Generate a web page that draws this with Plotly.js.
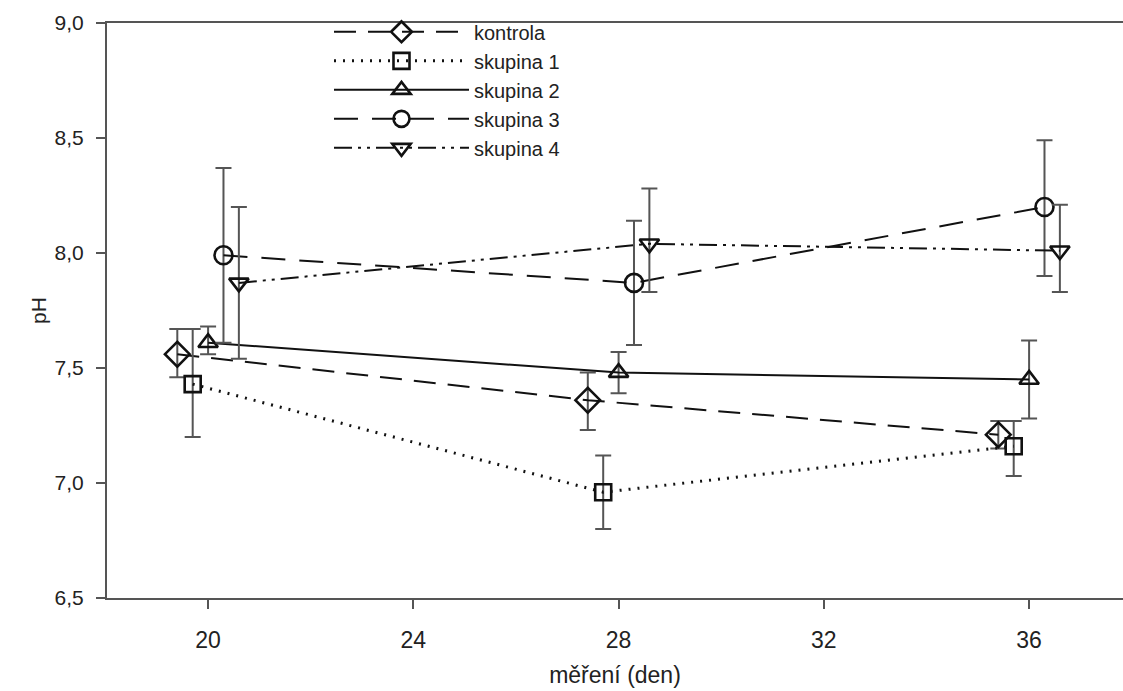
<!DOCTYPE html>
<html>
<head>
<meta charset="utf-8">
<script src="https://cdn.plot.ly/plotly-3.0.1.min.js"></script>
<style>html,body{margin:0;padding:0;background:#fff;}#chart{width:1123px;height:691px;}</style>
</head>
<body>
<div id="chart"></div>
<script>
// Series names
const seriesNames = ["kontrola", "skupina 1", "skupina 2", "skupina 3", "skupina 4"];

// x positions (days, slightly offset per group as in the original)
const xKontrola = [19.4, 27.4, 35.4];
const xSkupina1 = [19.7, 27.7, 35.7];
const xSkupina2 = [20.0, 28.0, 36.0];
const xSkupina3 = [20.3, 28.3, 36.3];
const xSkupina4 = [20.6, 28.6, 36.6];

// mean pH
const yKontrola = [7.56, 7.36, 7.21];
const ySkupina1 = [7.43, 6.96, 7.16];
const ySkupina2 = [7.61, 7.48, 7.45];
const ySkupina3 = [7.99, 7.87, 8.20];
const ySkupina4 = [7.87, 8.04, 8.01];

// error bar upper ends
const upKontrola = [7.67, 7.48, 7.27];
const upSkupina1 = [7.67, 7.12, 7.27];
const upSkupina2 = [7.68, 7.57, 7.62];
const upSkupina3 = [8.37, 8.14, 8.49];
const upSkupina4 = [8.20, 8.28, 8.21];

// error bar lower ends
const loKontrola = [7.46, 7.23, 7.15];
const loSkupina1 = [7.20, 6.80, 7.03];
const loSkupina2 = [7.56, 7.39, 7.28];
const loSkupina3 = [7.61, 7.60, 7.90];
const loSkupina4 = [7.54, 7.83, 7.83];

const xs = [xKontrola, xSkupina1, xSkupina2, xSkupina3, xSkupina4];
const ys = [yKontrola, ySkupina1, ySkupina2, ySkupina3, ySkupina4];
const ups = [upKontrola, upSkupina1, upSkupina2, upSkupina3, upSkupina4];
const los = [loKontrola, loSkupina1, loSkupina2, loSkupina3, loSkupina4];

const symbols = ["diamond-open", "square-open", "triangle-up-open", "circle-open", "triangle-down-open"];
const sizes = [19, 16, 17, 18, 17];
const dashes = ["22px,12px", "2px,7px", "solid", "24px,14px", "18px,6px,3px,6px,3px,6px"];
const lineWidths = [2, 3, 2, 2, 2];

const traces = seriesNames.map((name, i) => ({
  type: "scatter",
  mode: "lines+markers",
  name: name,
  x: xs[i],
  y: ys[i],
  line: {color: "#111", width: lineWidths[i], dash: dashes[i]},
  marker: {symbol: symbols[i], size: sizes[i], color: "#111", line: {color: "#111", width: 2.6}},
  error_y: {
    type: "data",
    symmetric: false,
    array: ups[i].map((u, k) => u - ys[i][k]),
    arrayminus: los[i].map((l, k) => ys[i][k] - l),
    color: "#555",
    thickness: 2,
    width: 8
  }
}));

const layout = {
  width: 1123,
  height: 691,
  margin: {l: 107, r: 0, t: 23, b: 93},
  paper_bgcolor: "#fff",
  plot_bgcolor: "#fff",
  separators: ", ",
  showlegend: true,
  legend: {
    x: 0.2185, y: 1.0185, xanchor: "left", yanchor: "top",
    bgcolor: "rgba(0,0,0,0)",
    font: {family: "Liberation Sans, Arial, sans-serif", size: 20, color: "#222"},
    itemwidth: 135,
    tracegroupgap: 0
  },
  xaxis: {
    range: [18.03, 37.83],
    tickvals: [20, 24, 28, 32, 36],
    ticks: "outside",
    ticklen: 9,
    tickwidth: 2,
    tickcolor: "#555",
    showline: true,
    linecolor: "#555",
    linewidth: 2,
    mirror: true,
    showgrid: false,
    zeroline: false,
    ticklabelstandoff: 11,
    tickfont: {family: "Liberation Sans Narrow, Liberation Sans, Arial, sans-serif", size: 23, color: "#222"},
    title: {text: "měření (den)", standoff: 15, font: {family: "Liberation Sans Narrow, Liberation Sans, Arial, sans-serif", size: 23, color: "#222"}}
  },
  yaxis: {
    range: [6.5, 9.0],
    tickvals: [6.5, 7.0, 7.5, 8.0, 8.5, 9.0],
    tickformat: ".1f",
    ticks: "outside",
    ticklen: 9,
    tickwidth: 2,
    tickcolor: "#555",
    showline: true,
    linecolor: "#555",
    linewidth: 2,
    showgrid: false,
    zeroline: false,
    ticklabelstandoff: 8,
    tickfont: {family: "Liberation Sans, Arial, sans-serif", size: 21, color: "#222"},
    title: {text: "pH", standoff: 2, font: {family: "Liberation Sans, Arial, sans-serif", size: 21, color: "#222"}}
  }
};

Plotly.newPlot("chart", traces, layout, {displayModeBar: false, staticPlot: true});
</script>
</body>
</html>
